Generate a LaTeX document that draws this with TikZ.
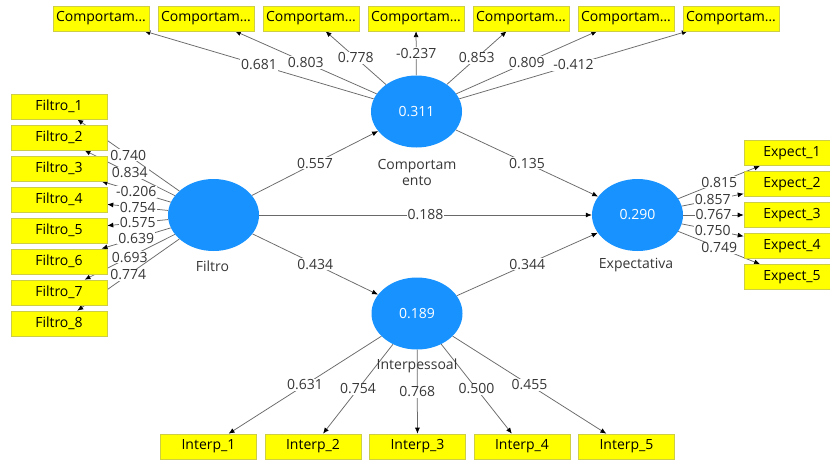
\documentclass[tikz,border=0pt]{standalone}
\usepackage{fontspec}
\setmainfont{Open Sans}
\usetikzlibrary{arrows.meta,backgrounds,shapes.geometric}
\definecolor{lvblue}{RGB}{24,146,255}
\definecolor{indyellow}{RGB}{255,255,0}
\definecolor{indborder}{RGB}{205,205,70}
\definecolor{edgegrey}{RGB}{105,105,105}
\definecolor{txtgrey}{RGB}{55,55,55}
\begin{document}
\begin{tikzpicture}[x=1pt,y=-1pt,
  font=\fontsize{14}{16}\selectfont,
  latent/.style={ellipse, fill=lvblue, minimum width=91pt, minimum height=72pt, inner sep=0pt, text=white},
  indic/.style={rectangle, fill=indyellow, draw=indborder, line width=0.6pt, minimum width=96pt, minimum height=25pt, inner sep=0pt, text=black},
  lvname/.style={text=txtgrey, inner sep=0pt, align=center},
  conn/.style={draw=edgegrey, line width=0.75pt, -{Latex[length=6pt,width=5pt,color=black]}},
  wlab/.style={fill=white, inner sep=1pt, text=txtgrey, midway}]
\useasboundingbox (0,0) rectangle (830,459);

% latent variables
\node[latent] (C) at (416.5,111.5) {0.311};
\node[latent] (F) at (213.5,215) {};
\node[latent] (E) at (637.5,215) {0.290};
\node[latent] (I) at (417,313.5) {0.189};

\node[lvname] (Cl) at (417,172) {Comportam\\ento};
\node[lvname] (Fl) at (212.5,266) {Filtro};
\node[lvname] (El) at (636,265) {Expectativa};
\node[lvname] (Il) at (417,366) {Interpessoal};

% indicators
\foreach \i in {1,...,7}
  \node[indic] (Ct\i) at ({101+105*(\i-1)},18.3) {Comportam…};
\foreach \i in {1,...,8}
  \node[indic] (Fi\i) at (59,{106.5+31*(\i-1)}) {Filtro\_\i};
\foreach \i in {1,...,5}
  \node[indic] (Ex\i) at (792,{153+31*(\i-1)}) {Expect\_\i};
\foreach \i in {1,...,5}
  \node[indic] (In\i) at ({208.5+104.5*(\i-1)},446.5) {Interp\_\i};

\begin{scope}[on background layer]
  \fill[white] (0,0) rectangle (830,459);
  \foreach \i/\v in {1/0.681,2/0.803,3/0.778,4/-0.237,5/0.853,6/0.809,7/-0.412}
    \draw[conn] (C) -- node[wlab] {\v} (Ct\i);
  \foreach \i/\v in {1/0.740,2/0.834,3/-0.206,4/0.754,5/0.575,6/0.639,7/0.693,8/0.774}
    \draw[conn] (F) -- node[wlab] {\v} (Fi\i);
  \foreach \i/\v in {1/0.815,2/0.857,3/0.767,4/0.750,5/0.749}
    \draw[conn] (E) -- node[wlab] {\v} (Ex\i);
  \foreach \i/\v in {1/0.631,2/0.754,3/0.768,4/0.500,5/0.455}
    \draw[conn] (I) -- node[wlab] {\v} (In\i);
  \draw[conn] (F) -- node[wlab] {0.557} (C);
  \draw[conn] (F) -- node[wlab] {0.188} (E);
  \draw[conn] (F) -- node[wlab] {0.434} (I);
  \draw[conn] (C) -- node[wlab] {0.135} (E);
  \draw[conn] (I) -- node[wlab] {0.344} (E);
\end{scope}
\end{tikzpicture}
\end{document}
